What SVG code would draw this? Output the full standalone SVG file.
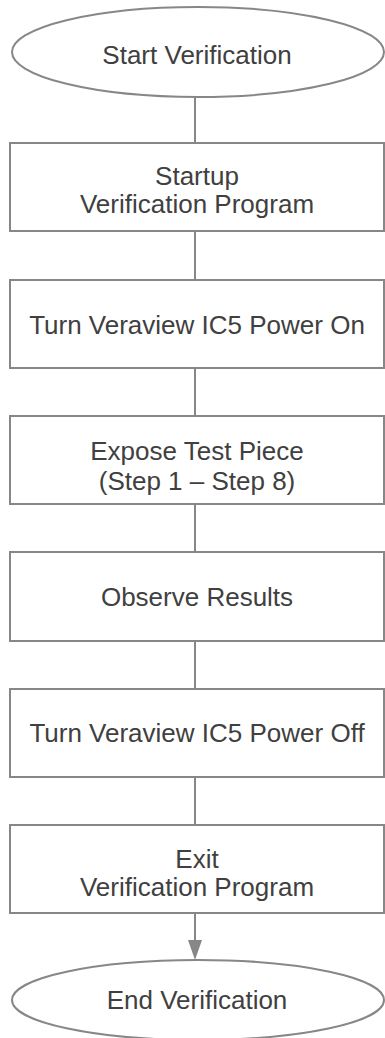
<svg xmlns="http://www.w3.org/2000/svg" width="385" height="1038" viewBox="0 0 385 1038">
<style>
.n{fill:#fff;stroke:#878787;stroke-width:2}
.t{font-family:"Liberation Sans",Arial,sans-serif;font-size:26px;fill:#404040;text-anchor:middle}
.c{stroke:#878787;stroke-width:2;fill:none}
</style>
<rect width="385" height="1038" fill="#fff"/>
<g id="connectors">
<line class="c" x1="195" y1="97" x2="195" y2="143"/>
<line class="c" x1="195" y1="231" x2="195" y2="280"/>
<line class="c" x1="195" y1="368" x2="195" y2="416"/>
<line class="c" x1="195" y1="504" x2="195" y2="552"/>
<line class="c" x1="195" y1="641" x2="195" y2="689"/>
<line class="c" x1="195" y1="777" x2="195" y2="825"/>
<path d="M195,913 V940" class="c"/>
<path d="M188,940 L202,940 L195,960 Z" fill="#878787"/>
</g>
<g id="start">
<ellipse class="n" cx="198" cy="52" rx="186" ry="45"/>
<text class="t" x="197" y="64">Start Verification</text>
</g>
<g id="startup">
<rect class="n" x="10" y="143" width="374" height="88"/>
<text class="t" x="197" y="185">Startup</text>
<text class="t" x="197" y="213">Verification Program</text>
</g>
<g id="poweron">
<rect class="n" x="10" y="280" width="374" height="88"/>
<text class="t" x="197" y="334">Turn Veraview IC5 Power On</text>
</g>
<g id="expose">
<rect class="n" x="10" y="416" width="374" height="88"/>
<text class="t" x="197" y="460">Expose Test Piece</text>
<text class="t" x="197" y="490">(Step 1 – Step 8)</text>
</g>
<g id="observe">
<rect class="n" x="10" y="552" width="374" height="89"/>
<text class="t" x="197" y="606">Observe Results</text>
</g>
<g id="poweroff">
<rect class="n" x="10" y="689" width="374" height="88"/>
<text class="t" x="197" y="742">Turn Veraview IC5 Power Off</text>
</g>
<g id="exit">
<rect class="n" x="10" y="825" width="374" height="88"/>
<text class="t" x="197" y="868">Exit</text>
<text class="t" x="197" y="896">Verification Program</text>
</g>
<g id="end">
<ellipse class="n" cx="198" cy="1000" rx="186" ry="40"/>
<text class="t" x="197" y="1009">End Verification</text>
</g>
</svg>
